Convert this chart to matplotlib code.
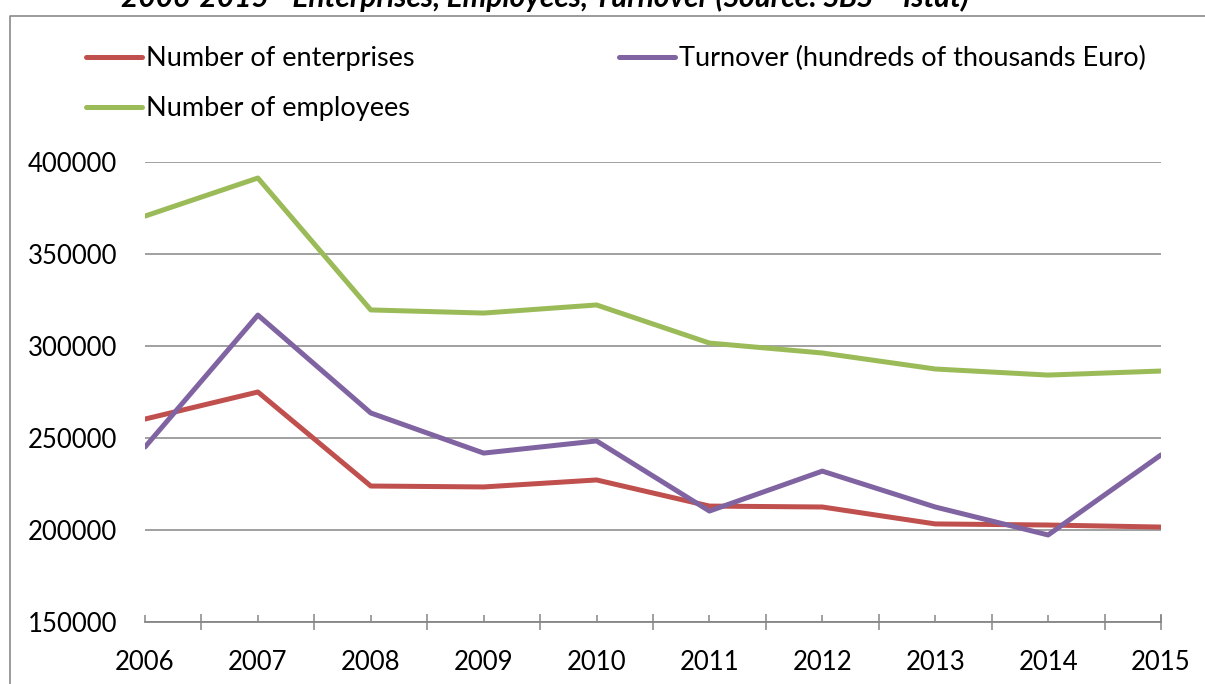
import matplotlib.pyplot as plt
from matplotlib.lines import Line2D

plt.rcParams['font.family'] = ['Lato', 'DejaVu Sans']

years = [2006, 2007, 2008, 2009, 2010, 2011, 2012, 2013, 2014, 2015]
enterprises = [260300, 275000, 223900, 223400, 227200, 213000, 212500, 203300, 202700, 201600]
employees = [370600, 391300, 319600, 317900, 322300, 301600, 296200, 287500, 284200, 286400]
turnover = [245100, 316800, 263600, 241800, 248400, 210300, 232000, 212500, 197300, 240800]
yticks = [150000, 200000, 250000, 300000, 350000, 400000]

title = '2006-2015 - Enterprises, Employees, Turnover (Source: SBS \u2013 Istat)'

RED = '#C0504D'
GREEN = '#9BBB59'
PURPLE = '#8064A2'
GRID = '#868686'

W, H = 1205, 684
fig = plt.figure(figsize=(W / 100, H / 100), dpi=100)
ax = fig.add_axes([145 / W, 1 - 622 / H, (1161 - 145) / W, (622 - 162) / H])

lw = 3.6
ax.plot(years, enterprises, color=RED, lw=lw, solid_capstyle='round', zorder=3)
ax.plot(years, employees, color=GREEN, lw=lw, solid_capstyle='round', zorder=3)
ax.plot(years, turnover, color=PURPLE, lw=lw, solid_capstyle='round', zorder=4)

ax.set_xlim(years[0], years[-1])
ax.set_ylim(150000, 400000)
ax.set_yticks(yticks)
ax.set_yticklabels([str(v) for v in yticks])
ax.set_xticks(years)
ax.set_xticklabels([str(y) for y in years])
ax.set_xticks([y + 0.5 for y in years[:-1]] + [years[-1]], minor=True)
ax.xaxis.remove_overlapping_locs = False

ax.grid(axis='y', color=GRID, lw=1.1)
ax.set_axisbelow(True)
for s in ['left', 'right', 'top']:
    ax.spines[s].set_visible(False)
ax.spines['bottom'].set_color(GRID)
ax.spines['bottom'].set_linewidth(1.3)

ax.tick_params(axis='y', length=0, pad=20, labelsize=18.5)
ax.tick_params(axis='x', which='major', direction='in', length=5, width=1.1,
               color=GRID, pad=20, labelsize=18.5)
ax.tick_params(axis='x', which='minor', direction='inout', length=11, width=1.1,
               color=GRID)

# legends
h_ent = Line2D([], [], color=RED, lw=lw, solid_capstyle='round')
h_emp = Line2D([], [], color=GREEN, lw=lw, solid_capstyle='round')
h_tur = Line2D([], [], color=PURPLE, lw=lw, solid_capstyle='round')
kw = dict(frameon=False, fontsize=19.5, handlelength=2.05, handletextpad=0.15,
          borderpad=0, borderaxespad=0, labelspacing=0.93)
fig.legend([h_ent, h_emp], ['Number of enterprises', 'Number of employees'],
           loc='upper left', bbox_to_anchor=(86 / W, 1 - 46 / H), **kw)
fig.legend([h_tur], ['Turnover (hundreds of thousands Euro)'],
           loc='upper left', bbox_to_anchor=(619 / W, 1 - 46 / H), **kw)

# outer chart frame (left and top edges visible)
fig.add_artist(Line2D([10 / W, 10 / W, 1.05], [-0.05, 1 - 16 / H, 1 - 16 / H],
                      transform=fig.transFigure, color='#8a8a8a', lw=1.2))

fig.text(545 / W, 1 - 7 / H, title, ha='center', va='baseline', fontsize=21.5,
         fontweight='bold', fontstyle='italic')

fig.savefig('out.png', dpi=100)
